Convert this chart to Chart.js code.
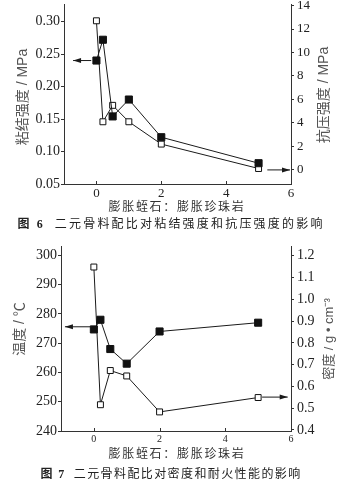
<!DOCTYPE html>
<html>
<head>
<meta charset="utf-8">
<script src="https://cdn.jsdelivr.net/npm/chart.js@4.4.1/dist/chart.umd.min.js"></script>
<style>
  html, body { margin:0; padding:0; background:#fff; }
  body { width:342px; height:486px; position:relative; overflow:hidden; }
  canvas { position:absolute; left:0; }
  .xt { position:absolute; left:0; width:354px; text-align:center; font-family:'Noto Sans CJK SC', sans-serif; font-size:12px; letter-spacing:1.7px; color:#333; line-height:14px; }
  .cap { position:absolute; left:0; width:342px; text-align:center; font-family:'Noto Sans CJK SC', sans-serif; font-size:12px; color:#222; line-height:14px; white-space:nowrap; }
  .cap b { font-family:'Liberation Serif', 'Noto Sans CJK SC', serif; font-size:12px; }
</style>
</head>
<body>
<canvas id="c1" width="342" height="210" style="top:-10px"></canvas>
<canvas id="c2" width="342" height="215" style="top:230px"></canvas>
<div class="xt" style="top:199px">膨胀蛭石：膨胀珍珠岩</div>
<div class="cap" style="top:216px;letter-spacing:2.2px"><b>图 6</b>&nbsp;&nbsp;二元骨料配比对粘结强度和抗压强度的影响</div>
<div class="xt" style="top:446px">膨胀蛭石：膨胀珍珠岩</div>
<div class="cap" style="top:466px;letter-spacing:1.4px"><b>图 7</b>&nbsp;&nbsp;二元骨料配比对密度和耐火性能的影响</div>
<script>
// ---- data ----
const ratios = [0, 0.2, 0.5, 1, 2, 5];
const bondStrength = [0.240, 0.272, 0.154, 0.180, 0.122, 0.082];   // MPa, left axis fig 6
const compStrength = [12.7, 4.1, 5.5, 4.1, 2.2, 0.12];              // MPa, right axis fig 6
const temperature = [274.7, 278.0, 268.0, 263.0, 274.0, 277.0];     // ℃, left axis fig 7
const density = [1.148, 0.516, 0.673, 0.648, 0.483, 0.549];         // g/cm3, right axis fig 7

const xTicks = [0, 2, 4, 6];
const bondTicks = [0.05, 0.10, 0.15, 0.20, 0.25, 0.30];
const compTicks = [0, 2, 4, 6, 8, 10, 12, 14];
const tempTicks = [240, 250, 260, 270, 280, 290, 300];
const densTicks = [0.4, 0.5, 0.6, 0.7, 0.8, 0.9, 1.0, 1.1, 1.2];

const serif = "'Liberation Serif', 'DejaVu Serif', serif";
const titleFont = "'Liberation Sans', 'Noto Sans CJK SC', sans-serif";
const lineCol = '#1a1a1a';
const axisCol = '#333';

function pts(xs, ys) { return xs.map((x, i) => ({ x: x, y: ys[i] })); }
function fixTicks(list) { return s => { s.ticks = list.map(v => ({ value: v })); }; }

const overlay = {
  id: 'overlay',
  afterDraw(chart, args, opts) {
    const ctx = chart.ctx;
    const xs = chart.scales.x;
    const area = chart.chartArea;
    ctx.save();
    // inward x ticks
    ctx.strokeStyle = axisCol; ctx.lineWidth = 1;
    xTicks.forEach(v => {
      const px = Math.round(xs.getPixelForValue(v)) + 0.5;
      ctx.beginPath(); ctx.moveTo(px, area.bottom); ctx.lineTo(px, area.bottom - 3); ctx.stroke();
    });
    // arrows
    (opts.arrows || []).forEach(a => {
      const ys = chart.scales[a.axis];
      const y = ys.getPixelForValue(a.y);
      const x1 = xs.getPixelForValue(a.x1), x2 = xs.getPixelForValue(a.x2);
      ctx.strokeStyle = lineCol; ctx.fillStyle = lineCol;
      ctx.beginPath(); ctx.moveTo(x1, y); ctx.lineTo(x2, y); ctx.stroke();
      const tip = a.dir < 0 ? x1 : x2;
      const d = a.dir < 0 ? 1 : -1;
      ctx.beginPath(); ctx.moveTo(tip, y); ctx.lineTo(tip + d * 8, y - 2.5); ctx.lineTo(tip + d * 8, y + 2.5); ctx.closePath(); ctx.fill();
    });
    // axis titles (both read bottom to top)
    (opts.titles || []).forEach(t => {
      ctx.save();
      ctx.translate(t.x, t.y);
      ctx.rotate(-Math.PI / 2);
      ctx.font = t.size + 'px ' + titleFont;
      ctx.fillStyle = '#555';
      ctx.textAlign = 'center'; ctx.textBaseline = 'middle';
      ctx.fillText(t.text, 0, 0);
      ctx.restore();
    });
    ctx.restore();
  }
};

function makeChart(id, cfg) {
  return new Chart(document.getElementById(id), {
    type: 'line',
    data: { datasets: [
      { data: pts(ratios, cfg.leftData), yAxisID: 'yL', borderColor: lineCol, borderWidth: 1,
        pointStyle: 'rect', pointRadius: 5, pointBackgroundColor: '#111', pointBorderColor: '#111', pointBorderWidth: 1, tension: 0 },
      { data: pts(ratios, cfg.rightData), yAxisID: 'yR', borderColor: lineCol, borderWidth: 1,
        pointStyle: 'rect', pointRadius: 4.2, pointBackgroundColor: '#fff', pointBorderColor: '#111', pointBorderWidth: 1, tension: 0 }
    ]},
    options: {
      responsive: false, animation: false,
      layout: { padding: { top: cfg.padTop, left: 0, right: 0, bottom: 0 } },
      plugins: { legend: { display: false }, tooltip: { enabled: false }, overlay: { arrows: cfg.arrows, titles: cfg.titles } },
      scales: {
        x: { type: 'linear', min: -1, max: 6, afterBuildTicks: fixTicks(xTicks),
             grid: { drawOnChartArea: false, drawTicks: false }, border: { color: axisCol, width: 1 },
             ticks: { padding: cfg.xPad, font: { family: serif, size: cfg.xSize }, color: '#222' },
             afterFit: s => { s.height = cfg.xHeight; } },
        yL: { type: 'linear', position: 'left', min: cfg.lMin, max: cfg.lMax, afterBuildTicks: fixTicks(cfg.lTicks),
              grid: { drawOnChartArea: false, tickLength: 3, color: axisCol }, border: { color: axisCol, width: 1 },
              ticks: { padding: 1, font: { family: serif, size: 14 }, color: '#222', callback: cfg.lFmt },
              afterFit: s => { s.width = cfg.leftW; } },
        yR: { type: 'linear', position: 'right', min: cfg.rMin, max: cfg.rMax, afterBuildTicks: fixTicks(cfg.rTicks),
              grid: { drawOnChartArea: false, tickLength: 3, color: axisCol }, border: { color: axisCol, width: 1 },
              ticks: { padding: 3, font: { family: serif, size: cfg.rSize }, color: '#222', callback: cfg.rFmt },
              afterFit: s => { s.width = cfg.rightW; } }
      }
    },
    plugins: [overlay]
  });
}

makeChart('c1', {
  leftData: bondStrength, rightData: compStrength,
  padTop: 14, xHeight: 16, xPad: 2, xSize: 13, leftW: 64, rightW: 51,
  lMin: 0.05, lMax: 0.327, lTicks: bondTicks, lFmt: v => v.toFixed(2),
  rMin: -1.2, rMax: 14.13, rTicks: compTicks, rFmt: v => String(v), rSize: 13,
  arrows: [ { axis: 'yL', y: 0.24, x1: -0.72, x2: -0.16, dir: -1 },
            { axis: 'yR', y: 0, x1: 5.27, x2: 5.97, dir: 1 } ],
  titles: [ { text: '粘结强度 / MPa', x: 23, y: 107, size: 14 },
            { text: '抗压强度 / MPa', x: 324, y: 105, size: 14 } ]
});

makeChart('c2', {
  leftData: temperature, rightData: density,
  padTop: 16, xHeight: 14, xPad: 2, xSize: 10, leftW: 61, rightW: 51,
  lMin: 240, lMax: 303.2, lTicks: tempTicks, lFmt: v => String(v),
  rMin: 0.3954, rMax: 1.2445, rTicks: densTicks, rFmt: v => v.toFixed(1), rSize: 14,
  arrows: [ { axis: 'yL', y: 275.6, x1: -0.88, x2: -0.06, dir: -1 },
            { axis: 'yR', y: 0.551, x1: 5.12, x2: 5.9, dir: 1 } ],
  titles: [ { text: '温度 / ℃', x: 20, y: 99, size: 14 },
            { text: '密度 / g • cm⁻³', x: 329, y: 109, size: 13 } ]
});
</script>
</body>
</html>
